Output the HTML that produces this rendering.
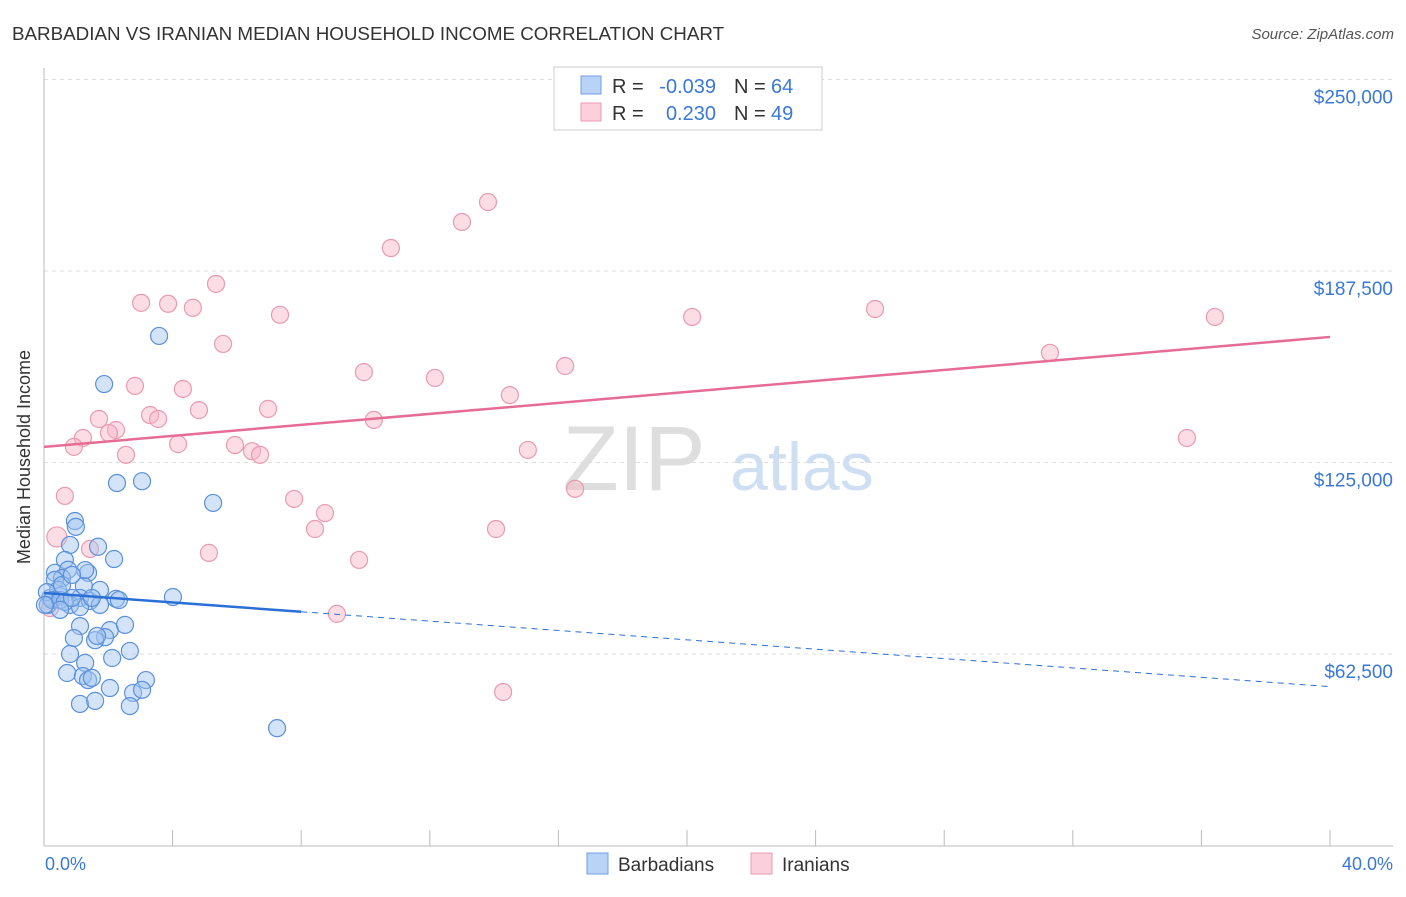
<!DOCTYPE html>
<html><head><meta charset="utf-8">
<style>
body{margin:0;background:#fff;font-family:"Liberation Sans",sans-serif;}
svg text{font-family:"Liberation Sans",sans-serif;}
</style></head>
<body>
<svg id="chart" width="1406" height="892" xmlns="http://www.w3.org/2000/svg">
<text x="12" y="40" font-size="18.8" fill="#333">BARBADIAN VS IRANIAN MEDIAN HOUSEHOLD INCOME CORRELATION CHART</text>
<text x="1394" y="39" font-size="15" fill="#555" text-anchor="end" font-style="italic">Source: ZipAtlas.com</text>
<g id="grid"></g>
<g>
<text x="634" y="490" font-size="92" fill="#dedede" font-family="Liberation Serif" text-anchor="middle">ZIP</text>
<text x="802" y="490" font-size="68" fill="#cfdff3" text-anchor="middle">atlas</text>
</g>
<line x1="44" y1="68" x2="44" y2="846" stroke="#bbb"/>
<line x1="44" y1="846" x2="1393" y2="846" stroke="#bbb"/>
<g id="xticks"></g>
<text x="30" y="457" font-size="18" fill="#333" text-anchor="middle" transform="rotate(-90 30 457)">Median Household Income</text>
<text x="45" y="870" font-size="18" fill="#3a78d6">0.0%</text>
<text x="1393" y="870" font-size="18" fill="#3a78d6" text-anchor="end">40.0%</text>
<g id="pts"></g>
<g id="trends"></g>
<g>
<rect x="554" y="67" width="268" height="63" fill="#fff" stroke="#ccc"/>
<rect x="581" y="76" width="20" height="18" fill="#b8d3f5" stroke="#6f9fe0"/>
<rect x="581" y="103" width="20" height="18" fill="#fbd0dc" stroke="#e99ab1"/>
<text x="612" y="93" font-size="20" fill="#333">R =</text>
<text x="716" y="93" font-size="20" fill="#3a78d6" text-anchor="end">-0.039</text>
<text x="734" y="93" font-size="20" fill="#333">N =</text>
<text x="771" y="93" font-size="20" fill="#3a78d6">64</text>
<text x="612" y="120" font-size="20" fill="#333">R =</text>
<text x="716" y="120" font-size="20" fill="#3a78d6" text-anchor="end">0.230</text>
<text x="734" y="120" font-size="20" fill="#333">N =</text>
<text x="771" y="120" font-size="20" fill="#3a78d6">49</text>
</g>
<g>
<rect x="587" y="853" width="21" height="21" fill="#b8d3f5" stroke="#6f9fe0"/>
<text x="618" y="871" font-size="19" fill="#333">Barbadians</text>
<rect x="751" y="853" width="21" height="21" fill="#fbd0dc" stroke="#e99ab1"/>
<text x="782" y="871" font-size="19" fill="#333">Iranians</text>
</g>
</svg>
<script>
const yTicks=[62500,125000,187500,250000];
const yTickLabels=["$62,500","$125,000","$187,500","$250,000"];
const blueX=[1.87,3.58,5.26,2.27,3.05,0.96,0.99,0.81,1.68,0.65,2.18,0.34,0.75,1.37,0.56,1.24,2.24,4.01,1.12,1.43,0.19,0.50,0.81,0.12,1.12,1.74,2.05,1.12,1.90,1.59,1.65,0.93,0.81,1.28,2.12,2.67,0.72,1.21,1.37,1.49,2.05,3.17,2.77,3.05,1.12,1.59,2.67,7.25,0.34,0.44,0.09,0.25,0.50,0.65,0.87,0.56,1.28,1.74,2.33,0.87,1.49,2.52,0.50,0.03];
const blueY=[150600,166300,111800,118300,118900,105900,104000,98100,97500,93200,93500,89000,90000,89000,87300,84700,80500,81100,80800,79800,80800,81400,78500,78500,77800,78500,70300,71600,68000,67000,68400,67700,62500,59600,61200,63500,56300,55300,54000,54700,51400,54000,49800,50800,46200,47200,45500,38300,86700,83400,82700,80100,80100,79500,80800,85000,89900,83400,80100,88300,80800,72000,76900,78500];
const pinkX=[13.81,13.00,10.79,5.35,3.02,3.86,4.63,7.34,20.16,25.85,36.42,5.57,31.29,16.21,9.95,12.16,2.83,4.32,14.49,4.82,6.97,3.30,3.55,1.71,10.26,2.24,2.02,1.21,35.55,0.93,4.17,5.94,6.47,6.72,2.55,15.05,16.52,0.65,7.78,8.74,8.43,14.06,0.40,1.43,5.13,9.80,9.11,14.28,0.19];
const pinkY=[210000,203500,195000,183300,177100,176800,175500,173200,172500,175100,172500,163700,160800,156500,154500,152600,150000,149000,147000,142100,142500,140500,139200,139200,138900,135600,134600,133000,133000,130100,131000,130700,128700,127500,127500,129100,116400,114100,113100,108500,103300,103300,100700,96800,95500,93200,75600,50100,77500];
const blueTrend=[82400,-764];
const pinkTrend=[130100,897];
const NS="http://www.w3.org/2000/svg";
const X=v=>44+v*32.15;
const Y=v=>845.5-v/62500*191.5;
function mk(tag,attrs,parent){const e=document.createElementNS(NS,tag);for(const k in attrs)e.setAttribute(k,attrs[k]);parent.appendChild(e);return e;}
const grid=document.getElementById('grid');
yTicks.forEach((t,i)=>{
 const l=mk('line',{x1:44,x2:1393,y1:Y(t),y2:Y(t),stroke:'#ddd','stroke-dasharray':'4,4'},grid);
 
 
 const tx=mk('text',{x:1393,y:Y(t)+24,'font-size':19,fill:'#3a78d6','text-anchor':'end'},grid);
 tx.textContent=yTickLabels[i];
 
 
});
const xt=document.getElementById('xticks');
for(let i=0;i<=10;i++){const l=mk('line',{x1:X(i*4),x2:X(i*4),y1:830,y2:846,stroke:'#bbb'},xt);
 
 }
const pts=document.getElementById('pts');
pinkX.forEach((x,i)=>{const c=mk('circle',{cx:X(x),cy:Y(pinkY[i]),r:i==42?10:8.5,fill:'rgba(248,180,200,0.45)',stroke:'#e99ab1','stroke-width':1.2},pts);
 
 });
blueX.forEach((x,i)=>{const c=mk('circle',{cx:X(x),cy:Y(blueY[i]),r:8.5,fill:'rgba(160,195,240,0.45)',stroke:'#5a90dc','stroke-width':1.2},pts);
 
 });
const tr=document.getElementById('trends');
const bt=v=>blueTrend[0]+blueTrend[1]*v, pt=v=>pinkTrend[0]+pinkTrend[1]*v;
let l1=mk('line',{x1:X(0),y1:Y(bt(0)),x2:X(8),y2:Y(bt(8)),stroke:'#2a6fd6','stroke-width':2.5},tr);


let l2=mk('line',{x1:X(8),y1:Y(bt(8)),x2:X(40),y2:Y(bt(40)),stroke:'#2a6fd6','stroke-width':1,'stroke-dasharray':'6,5'},tr);


let l3=mk('line',{x1:X(0),y1:Y(pt(0)),x2:X(40),y2:Y(pt(40)),stroke:'#e66c95','stroke-width':2.5},tr);


</script>
</body></html>
